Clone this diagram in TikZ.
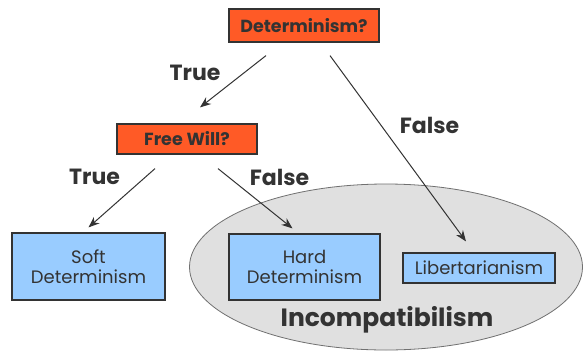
\documentclass[tikz,border=0pt]{standalone}
\usepackage{fontspec}
\setmainfont{Poppins}
\usetikzlibrary{arrows.meta,shapes.geometric}
\definecolor{orng}{HTML}{FF5A26}
\definecolor{lblue}{HTML}{99CCFF}
\definecolor{ink}{HTML}{333333}
\definecolor{ellfill}{HTML}{E0E0E0}
\definecolor{ellline}{HTML}{707070}
\tikzset{
  qbox/.style={draw=ink, line width=1.2pt, fill=orng, text=ink, inner sep=0pt,
    font=\fontsize{17.5}{20}\selectfont\bfseries},
  abox/.style={draw=ink, line width=1.2pt, fill=lblue, text=ink, inner sep=0pt, align=center,
    font=\fontsize{18}{19.5}\selectfont},
  lbl/.style={text=ink, font=\fontsize{22}{24}\selectfont\bfseries, inner sep=0pt},
  arr/.style={draw=ink, line width=1pt, -{Stealth[length=11pt,width=8.5pt]}}
}
\begin{document}
\begin{tikzpicture}[x=1pt,y=-1pt]
\useasboundingbox (0,0) rectangle (583,351);
\fill[white] (0,0) rectangle (583,351);
\node[draw=ellline, line width=0.8pt, fill=ellfill, ellipse, inner sep=0pt, minimum width=393pt, minimum height=166pt] (ell) at (386,267) {};
\node[qbox, minimum width=150pt, minimum height=33pt] (det) at (304,25.5) {Determinism?};
\node[qbox, minimum width=140pt, minimum height=30pt] (fw) at (187,139) {Free Will?};
\node[abox, minimum width=153pt, minimum height=67pt] (soft) at (88.5,266.5) {Soft\\Determinism};
\node[abox, minimum width=151pt, minimum height=66pt] (hard) at (304.5,267) {Hard\\Determinism};
\node[abox, minimum width=152pt, minimum height=30pt] (lib) at (479,268) {Libertarianism};
\node[text=ink, font=\fontsize{25}{28}\selectfont\bfseries, inner sep=0pt] (inc) at (387,320) {Incompatibilism};
\node[lbl] (t1) at (195,73) {True};
\node[lbl] (t2) at (94.5,177) {True};
\node[lbl] (f1) at (429.5,125) {False};
\node[lbl] (f2) at (279.5,177) {False};
\draw[arr] ([xshift=-38pt,yshift=-13pt]det.south) -- ([xshift=13pt,yshift=16pt]fw.north);
\draw[arr] ([xshift=26pt,yshift=-13pt]det.south) -- ([xshift=-13pt,yshift=11pt]lib.north);
\draw[arr] ([xshift=-32pt,yshift=-14pt]fw.south) -- ([xshift=0pt,yshift=5pt]soft.north);
\draw[arr] ([xshift=31pt,yshift=-14pt]fw.south) -- ([xshift=-12pt,yshift=5pt]hard.north);
\end{tikzpicture}
\end{document}
